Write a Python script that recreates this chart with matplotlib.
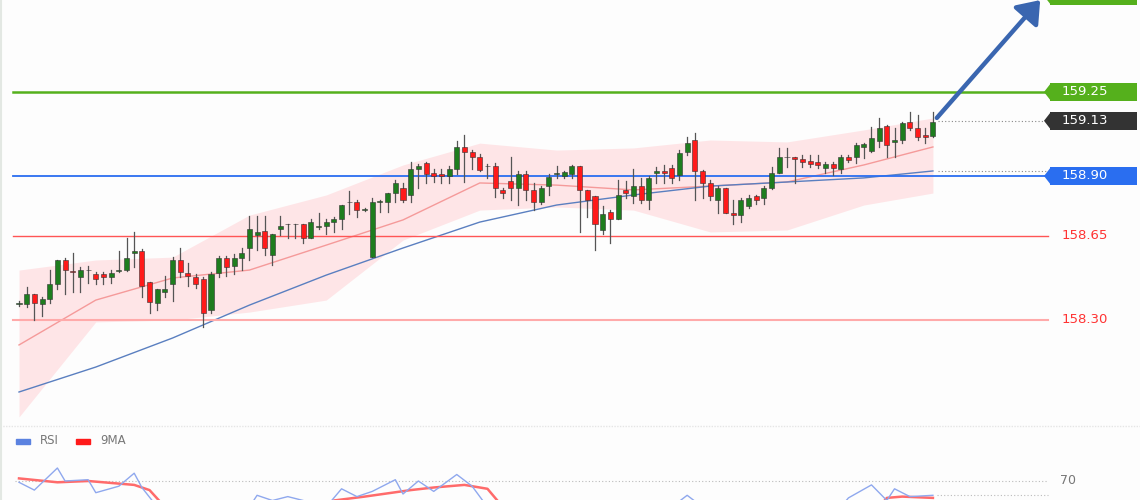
import matplotlib
matplotlib.use("Agg")
import matplotlib.pyplot as plt
from matplotlib.patches import Rectangle, FancyArrowPatch
import numpy as np

opens = [158.365,158.367,158.408,158.367,158.386,158.449,158.55,158.505,158.479,158.508,
         158.49,158.49,158.478,158.505,158.508,158.58,158.589,158.46,158.37,158.418,
         158.449,158.55,158.497,158.48,158.47,158.342,158.497,158.557,158.525,158.557,
         158.599,158.655,158.67,158.57,158.68,158.70,158.70,158.70,158.64,158.686,
         158.69,158.71,158.72,158.79,158.793,158.76,158.564,158.793,158.79,158.83,
         158.85,158.82,158.93,158.953,158.912,158.91,158.90,158.93,159.02,159.00,
         158.98,158.94,158.94,158.84,158.88,158.85,158.91,158.84,158.79,158.858,
         158.91,158.90,158.91,158.94,158.84,158.817,158.675,158.75,158.72,158.84,
         158.817,158.858,158.80,158.911,158.921,158.932,158.904,159.001,159.05,158.921,
         158.869,158.80,158.849,158.747,158.737,158.775,158.817,158.807,158.849,158.914,
         158.978,158.978,158.97,158.962,158.96,158.932,158.95,158.928,158.981,158.981,
         159.019,159.006,159.047,159.108,159.043,159.05,159.126,159.099,159.071,159.067]
closes = [158.37,158.408,158.37,158.388,158.449,158.55,158.508,158.50,158.508,158.508,
          158.47,158.48,158.497,158.51,158.56,158.589,158.44,158.376,158.43,158.43,
          158.55,158.50,158.485,158.449,158.33,158.49,158.557,158.52,158.557,158.578,
          158.678,158.665,158.599,158.657,158.69,158.70,158.70,158.64,158.71,158.69,
          158.707,158.722,158.78,158.79,158.76,158.76,158.79,158.793,158.83,158.872,
          158.80,158.93,158.94,158.91,158.90,158.90,158.93,159.02,159.00,158.98,
          158.925,158.94,158.85,158.83,158.85,158.91,158.84,158.79,158.85,158.897,
          158.91,158.915,158.94,158.84,158.80,158.70,158.74,158.72,158.82,158.83,
          158.858,158.80,158.89,158.921,158.911,158.89,158.997,159.039,158.921,158.869,
          158.817,158.851,158.744,158.737,158.80,158.81,158.80,158.849,158.911,158.978,
          158.978,158.97,158.96,158.95,158.946,158.95,158.932,158.978,158.967,159.029,
          159.032,159.06,159.099,159.029,159.05,159.12,159.099,159.061,159.064,159.126]
highs = [158.38,158.438,158.41,158.396,158.508,158.55,158.558,158.58,158.522,158.525,
         158.50,158.50,158.51,158.589,158.64,158.668,158.595,158.46,158.43,158.485,
         158.564,158.60,158.538,158.49,158.48,158.50,158.565,158.565,158.575,158.60,
         158.733,158.733,158.733,158.66,158.733,158.70,158.70,158.70,158.72,158.745,
         158.72,158.73,158.78,158.837,158.80,158.765,158.807,158.80,158.83,158.883,
         158.87,158.96,158.95,158.96,158.93,158.93,158.94,159.047,159.07,159.01,
         158.99,158.95,158.955,158.85,158.98,158.92,158.92,158.87,158.86,158.91,
         158.94,158.92,158.945,158.94,158.84,158.817,158.775,158.76,158.883,158.88,
         158.928,158.89,158.90,158.939,158.946,158.946,159.008,159.064,159.078,158.925,
         158.883,158.858,158.849,158.80,158.807,158.821,158.821,158.858,158.939,159.015,
         159.015,158.98,158.987,158.987,158.987,158.96,158.96,158.987,158.987,159.036,
         159.039,159.106,159.14,159.113,159.099,159.126,159.168,159.154,159.099,159.168]
lows = [158.36,158.354,158.30,158.318,158.37,158.43,158.408,158.418,158.418,158.455,
        158.45,158.45,158.455,158.50,158.505,158.52,158.397,158.33,158.342,158.397,
        158.38,158.48,158.44,158.433,158.272,158.33,158.48,158.485,158.49,158.508,
        158.55,158.59,158.57,158.529,158.655,158.64,158.64,158.62,158.64,158.678,
        158.66,158.668,158.68,158.74,158.73,158.755,158.564,158.75,158.75,158.79,
        158.79,158.79,158.85,158.87,158.875,158.87,158.87,158.91,158.876,158.93,
        158.92,158.89,158.814,158.81,158.80,158.78,158.80,158.76,158.785,158.82,
        158.89,158.89,158.89,158.668,158.73,158.59,158.66,158.62,158.72,158.81,
        158.786,158.786,158.761,158.872,158.869,158.869,158.883,158.987,158.80,158.807,
        158.80,158.744,158.744,158.70,158.71,158.765,158.783,158.783,158.844,158.911,
        158.939,158.869,158.939,158.939,158.932,158.911,158.904,158.911,158.96,158.953,
        158.974,159.001,159.022,158.981,158.981,159.036,159.092,159.05,159.039,159.064]

ma_idx = [0,10,20,30,40,50,60,70,80,90,100,110,119]
ma_red = [158.196,158.383,158.475,158.508,158.612,158.717,158.871,158.862,158.842,158.858,158.875,158.946,159.021]
ma_blue = [158.00,158.104,158.225,158.362,158.487,158.60,158.708,158.779,158.821,158.858,158.875,158.892,158.921]
band_up = [158.508,158.55,158.562,158.737,158.821,158.946,159.037,159.008,159.017,159.05,159.042,159.092,159.142]
band_lo = [157.896,158.292,158.30,158.333,158.383,158.633,158.758,158.771,158.758,158.667,158.675,158.779,158.829]

levels = [159.25, 158.90, 158.65, 158.30]
level_labels = ["159.25", "158.90", "158.65", "158.30"]
last_price = 159.13

rsi_idx = [0,2,5,6,9,10,13,15,16,18,30,31,33,35,37,40,42,44,46,49,50,52,54,57,59,61,85,87,89,107,108,111,113,114,116,119]
rsi_val = [69,63,80,70,71,61,66,76,65,50,50,59,55,58,55,50,64,58,62,71,60,70,62,75,66,50,50,59,50,50,57,67,55,64,58,59]
ma9_idx = [0,5,9,15,17,19,40,41,45,51,54,58,61,63,112,113,115,119]
ma9_val = [72,69,70,67,63,50,50,55,58,63,65,67,64,50,50,57,58,57]

# pixel-based transform helpers for layout
PX = 7.68
def xi(px):
    return (px - 19) / PX

fig = plt.figure(figsize=(11.4, 5.0), dpi=100)
fig.patch.set_facecolor("#fdfdfd")
ax = fig.add_axes([0, 0.15, 1, 0.85])
ax.set_facecolor("#fdfdfd")
ax.set_xlim(xi(0), xi(1140))
ymax = 159.25 + 92 / 240
ymin = 159.25 - 333 / 240
ax.set_ylim(ymin, ymax)
ax.axis("off")

ax.fill_between(ma_idx, band_lo, band_up, color="#ffd6d9", alpha=0.6, lw=0, zorder=1)
ax.plot(ma_idx, ma_red, color="#f59a9a", lw=1.0, zorder=2)
ax.plot(ma_idx, ma_blue, color="#5a7fc0", lw=1.0, zorder=2)

lc = ["#55b01c", "#2a6ef0", "#ff5555", "#ffaaaa"]
lw = [1.8, 1.3, 1.0, 1.5]
for lv, c, w in zip(levels, lc, lw):
    ax.plot([xi(13), xi(1048)], [lv, lv], color=c, lw=w, zorder=3)

for i in range(len(opens)):
    o, c, h, l = opens[i], closes[i], highs[i], lows[i]
    col = "#1e7d1e" if c >= o else "#ff1a1a"
    ax.plot([i, i], [l, h], color="#555555", lw=0.9, zorder=4)
    b = max(abs(c - o), 0.002)
    ax.add_patch(Rectangle((i - 0.33, min(o, c)), 0.66, b, facecolor=col,
                           edgecolor="#333333", lw=0.4, zorder=5))

n = len(opens)
ax.plot([n - 0.3, xi(1048)], [last_price, last_price], color="#888888", lw=0.8, ls=(0, (1, 2)), zorder=3)
ax.plot([n - 0.3, xi(1048)], [ma_blue[-1], ma_blue[-1]], color="#888888", lw=0.8, ls=(0, (1, 2)), zorder=3)

pp = 1 / 240
def box(price, text, fc, tc="white"):
    ax.add_patch(Rectangle((xi(1050), price - 9 * pp), xi(1137) - xi(1050), 18 * pp,
                           facecolor=fc, edgecolor="none", zorder=6, clip_on=False))
    ax.add_patch(plt.Polygon([[xi(1044), price], [xi(1051), price + 9 * pp], [xi(1051), price - 9 * pp]],
                             facecolor=fc, edgecolor="none", zorder=6))
    ax.text(xi(1062), price, text, color=tc, fontsize=9.5, va="center", ha="left", zorder=7,
            family="DejaVu Sans")

box(159.25, "159.25", "#55b01c")
box(last_price, "159.13", "#333333")
box(158.90, "158.90", "#2a6ef0")
box(ymax + 4 * pp, "", "#55b01c")
ax.text(xi(1062), 158.65, "158.65", color="#ff3333", fontsize=9.5, va="center")
ax.text(xi(1062), 158.30, "158.30", color="#ff3333", fontsize=9.5, va="center")

arr = FancyArrowPatch((xi(935), 159.25 - (120 - 92) * pp), (xi(1042), ymax + 2 * pp),
                      arrowstyle="-|>,head_length=8,head_width=6", color="#3a66b0", lw=3.2,
                      mutation_scale=1.6, zorder=8, clip_on=False)
ax.add_patch(arr)
ax.plot([xi(1), xi(1)], [ymin, ymax], color="#e3e8e3", lw=1.5)

# RSI panel
ax2 = fig.add_axes([0, 0, 1, 0.15])
ax2.set_facecolor("#fdfdfd")
ax2.set_xlim(xi(0), xi(1140))
s = 1.3
ax2.set_ylim(70 - 19 / s, 70 + 56 / s)
ax2.axis("off")
ax2.axhline(70 + 56 / s - 0.5, color="#e5e5e5", lw=1, ls=(0, (1, 1)))
ax2.plot([xi(15), xi(1048)], [70, 70], color="#bbbbbb", lw=0.8, ls=(0, (1, 2)))
ax2.plot([n - 0.5, xi(1048)], [59, 59], color="#bbbbbb", lw=0.8, ls=(0, (1, 2)))
ax2.text(xi(1060), 70, "70", color="#777777", fontsize=9, va="center")
ax2.plot(ma9_idx, ma9_val, color="#ff6b6b", lw=1.8)
ax2.plot(rsi_idx, rsi_val, color="#8fa8ee", lw=1.0)
ly = 70 + 40 / s
ax2.add_patch(Rectangle((xi(16), ly - 2.5 / s), xi(30) - xi(16), 5 / s, color="#5b82e0"))
ax2.text(xi(40), ly, "RSI", color="#777777", fontsize=8.5, va="center")
ax2.add_patch(Rectangle((xi(76), ly - 2.5 / s), xi(90) - xi(76), 5 / s, color="#ff1a1a"))
ax2.text(xi(100), ly, "9MA", color="#777777", fontsize=8.5, va="center")
ax2.plot([xi(1), xi(1)], [70 - 19 / s, 70 + 56 / s], color="#e3e8e3", lw=1.5)

fig.savefig("out.png", dpi=100, facecolor=fig.get_facecolor())
